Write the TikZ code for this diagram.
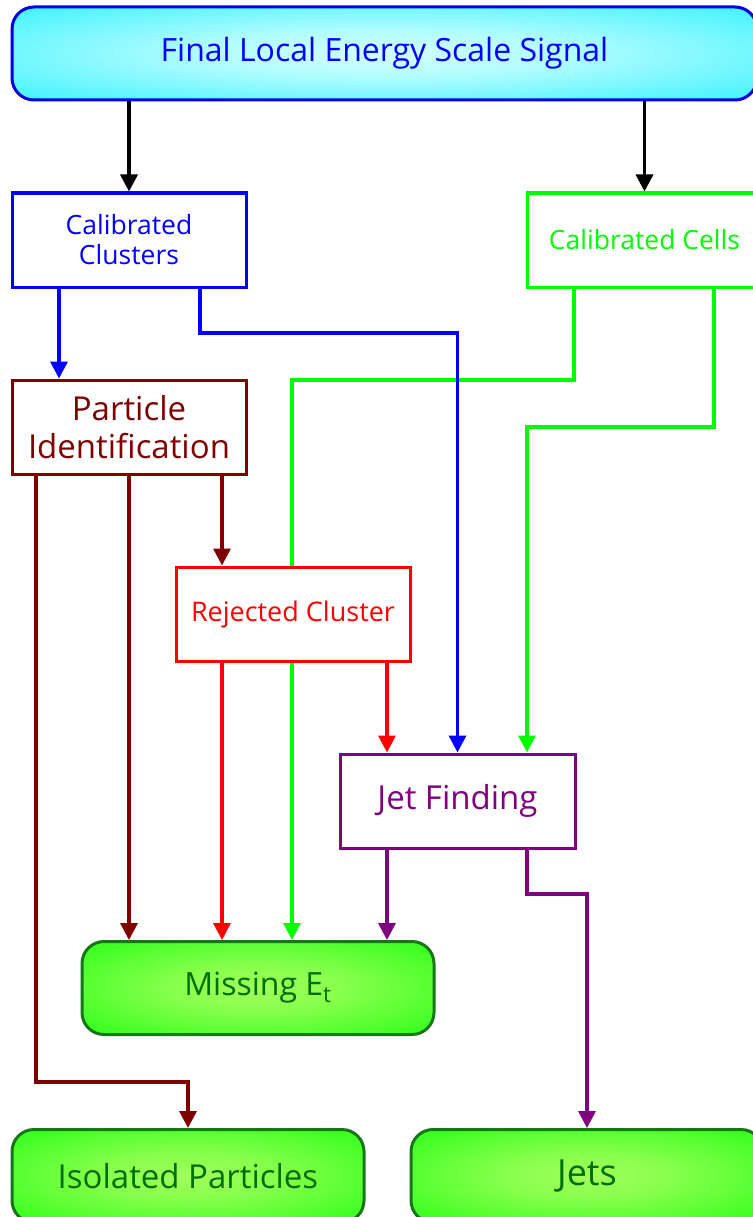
\documentclass[tikz,border=0pt]{standalone}
\usepackage{fontspec}
\setmainfont{Open Sans}
\usetikzlibrary{arrows.meta,backgrounds}
\definecolor{dred}{RGB}{128,0,0}
\definecolor{purp}{RGB}{128,0,128}
\definecolor{lgreen}{RGB}{0,255,0}
\definecolor{dgreen}{RGB}{0,110,0}
\definecolor{bordgreen}{RGB}{20,120,20}
\definecolor{cyanedge}{RGB}{0,238,255}
\definecolor{cyanmid}{RGB}{210,255,255}
\definecolor{greenmid}{RGB}{160,255,90}
\pgfdeclareradialshading{cyanshade}{\pgfpoint{0bp}{0bp}}{color(0bp)=(cyanmid); color(12bp)=(cyanmid!85!cyanedge); color(48bp)=(cyanedge); color(50bp)=(cyanedge)}
\pgfdeclareradialshading{greenshade}{\pgfpoint{0bp}{0bp}}{color(0bp)=(greenmid); color(12bp)=(greenmid!85!lgreen); color(48bp)=(lgreen); color(50bp)=(lgreen)}
\tikzset{
  box/.style={draw, line width=3pt, fill=white, minimum width=234pt, minimum height=94pt, align=center, inner sep=0pt},
  rbox/.style={draw, line width=3pt, rounded corners=22pt, minimum height=93pt, align=center, inner sep=0pt},
  conn/.style={line width=3.4pt, -{Triangle[width=17pt,length=17pt]}},
  bigfont/.style={font=\fontsize{33}{38}\selectfont},
  smallfont/.style={font=\fontsize{26.5}{30}\selectfont}
}
\begin{document}
\begin{tikzpicture}[x=1pt,y=-1pt]
\useasboundingbox (0,0) rectangle (752,1217);
% nodes
\node[rbox, draw=blue!90!black, shading=cyanshade, minimum width=745pt, text=blue, font=\fontsize{32}{36}\selectfont] (top) at (384.5,53.5) {Final Local Energy Scale Signal};
\node[box, draw=blue, text=blue, smallfont] (cc) at (129,240) {Calibrated\\Clusters};
\node[box, draw=lgreen, text=lgreen, minimum width=235pt, smallfont] (cells) at (644.5,240) {Calibrated Cells};
\node[box, draw=dred, text=dred, bigfont] (pid) at (129,427) {Particle\\Identification};
\node[box, draw=red, text=red, font=\fontsize{27}{30}\selectfont] (rc) at (293,614) {Rejected Cluster};
\node[box, draw=purp, text=purp, minimum width=235pt, bigfont] (jf) at (457.5,801) {Jet Finding};
\node[rbox, draw=bordgreen, shading=greenshade, minimum width=352pt, text=dgreen, font=\fontsize{32}{36}\selectfont] (met) at (258,988) {Missing E\textsubscript{t}};
\node[rbox, draw=bordgreen, shading=greenshade, minimum width=352pt, text=dgreen, bigfont] (iso) at (188,1176) {Isolated Particles};
\node[rbox, draw=bordgreen, shading=greenshade, minimum width=352pt, text=dgreen, font=\fontsize{36}{38}\selectfont] (jets) at (587,1176) {Jets};
% connectors
\begin{pgfonlayer}{background}
\draw[conn, lgreen] (cells.south -| 574,0) |- (292,380) -- (met.north -| 292,0);
\draw[conn, lgreen] (cells.south -| 714,0) |- (527,427) -- (jf.north -| 527,0);
\draw[conn, blue] (cc.south -| 200,0) |- (jf.north |- 0,333) -- (jf.north);
\end{pgfonlayer}
\draw[conn, black] (top.south -| cc.north) -- (cc.north);
\draw[conn, black] (top.south -| cells.north) -- (cells.north);
\draw[conn, blue] (cc.south -| 59,0) -- (pid.north -| 59,0);
\draw[conn, dred] (pid.south -| 36,0) |- (iso.north |- 0,1082) -- (iso.north);
\draw[conn, dred] (pid.south) -- (met.north -| pid.south);
\draw[conn, dred] (pid.south -| 222,0) -- (rc.north -| 222,0);
\draw[conn, red] (rc.south -| 222,0) -- (met.north -| 222,0);
\draw[conn, red] (rc.south -| 387,0) -- (jf.north -| 387,0);
\draw[conn, purp] (jf.south -| 387,0) -- (met.north -| 387,0);
\draw[conn, purp] (jf.south -| 527,0) |- (jets.north |- 0,894) -- (jets.north);
\end{tikzpicture}
\end{document}
